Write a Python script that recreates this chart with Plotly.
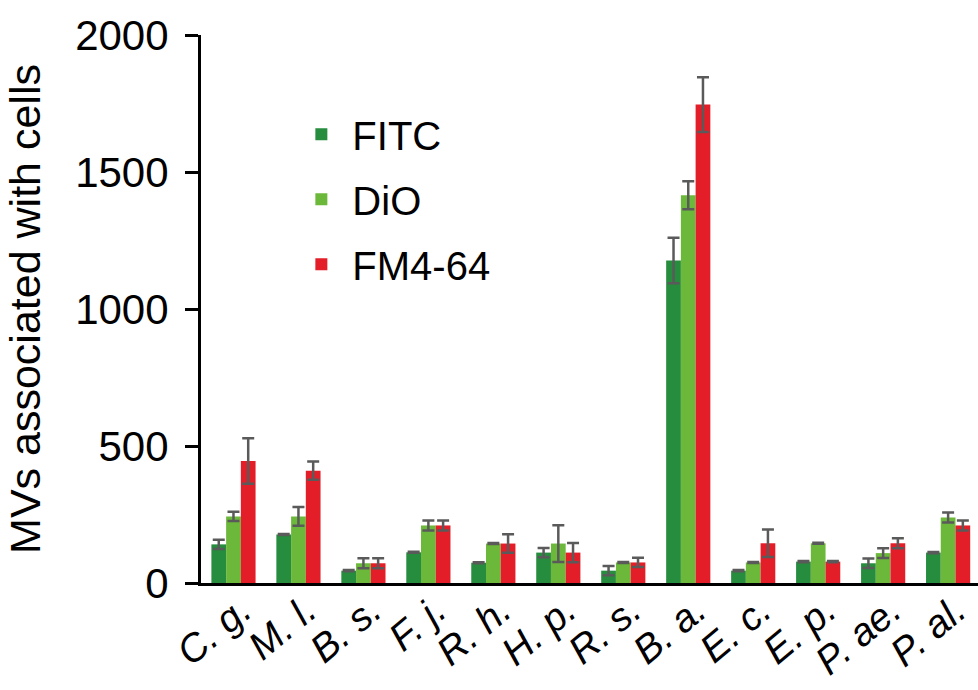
import plotly.graph_objects as go

categories = ["C. g.", "M. l.", "B. s.", "F. j.", "R. h.", "H. p.", "R. s.",
              "B. a.", "E. c.", "E. p.", "P. ae.", "P. al."]

fitc = [141, 177, 45, 112, 74, 111, 45, 1177, 45, 78, 72, 111]
fitc_err = [17, 2, 2, 2, 2, 17, 17, 83, 2, 2, 17, 2]

dio = [243, 243, 72, 210, 144, 144, 75, 1415, 75, 145, 109, 239]
dio_err = [17, 34, 18, 18, 2, 67, 2, 51, 2, 2, 18, 18]

fm = [445, 410, 72, 210, 144, 111, 75, 1746, 145, 78, 145, 210]
fm_err = [83, 33, 18, 18, 34, 35, 17, 100, 50, 2, 18, 18]

series_names = ["FITC", "DiO", "FM4-64"]
colors = ["#268c3e", "#6cb83a", "#e41e28"]
y_ticks = [0, 500, 1000, 1500, 2000]

FONT = "Liberation Sans, Arial, Helvetica, sans-serif"
ERR_COLOR = "#5a5a5a"

fig = go.Figure()
for i, (name, vals, errs, col) in enumerate(zip(series_names, [fitc, dio, fm],
                                               [fitc_err, dio_err, fm_err], colors)):
    fig.add_trace(go.Bar(
        x=categories, y=vals, name=name, legendgroup=name,
        marker=dict(color=col, line=dict(width=0)),
        error_y=dict(type="data", array=errs, visible=True,
                     color=ERR_COLOR, thickness=2.5, width=6),
    ))

fig.update_layout(
    width=978, height=690,
    margin=dict(l=201, r=0, t=35, b=107),
    paper_bgcolor="white", plot_bgcolor="white",
    barmode="group", bargap=0.32, bargroupgap=0,
    font=dict(family=FONT, color="black"),
    showlegend=True,
    legend=dict(x=0.115, y=0.878, xanchor="left", yanchor="top",
                font=dict(size=40, family=FONT, color="black"),
                bgcolor="rgba(0,0,0,0)", tracegroupgap=10,
                traceorder="grouped", itemwidth=52),
)

fig.update_xaxes(
    range=[-0.5, 11.46], showgrid=False, zeroline=False, automargin=False,
    showline=True, linecolor="black", linewidth=3,
    ticks="", tickangle=-40, ticklabelshift=8, ticklabelstandoff=-14,
    tickfont=dict(size=39, family=FONT, color="black", style="italic"),
)

fig.update_yaxes(
    range=[0, 2000], tickvals=y_ticks, ticktext=[str(v) for v in y_ticks],
    showgrid=False, zeroline=False, automargin=False,
    showline=True, linecolor="black", linewidth=3,
    ticks="outside", ticklen=13, tickwidth=3, tickcolor="black",
    ticklabelstandoff=8,
    tickfont=dict(size=42, family=FONT, color="black"),
    title=dict(text="MVs associated with cells", standoff=22,
               font=dict(size=43, family=FONT, color="black")),
)

fig.write_html("out.html")
